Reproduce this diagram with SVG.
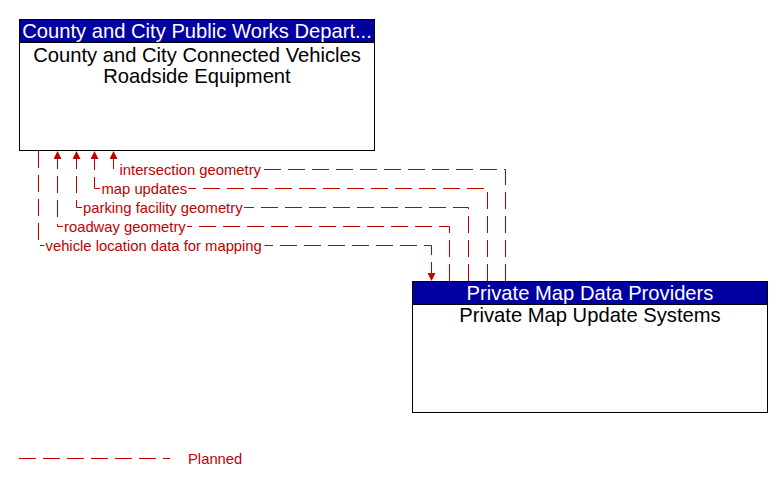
<svg xmlns="http://www.w3.org/2000/svg" width="783" height="487" viewBox="0 0 783 487">
<style>
.box{fill:#ffffff;stroke:#000000;stroke-width:1}
.hdr{fill:#0000A0;stroke:#000000;stroke-width:1}
.ht{font-family:"Liberation Sans",Arial,sans-serif;font-size:20.2px;fill:#ffffff;text-anchor:middle}
.bt{font-family:"Liberation Sans",Arial,sans-serif;font-size:20.2px;fill:#000000;text-anchor:middle}
.flow{fill:none;stroke:#C00000;stroke-width:1;stroke-dasharray:17,7}
.lbl{font-family:"Liberation Sans",Arial,sans-serif;font-size:14.8px;fill:#C00000}
.bg{fill:#ffffff}
</style>
<defs>
<marker id="arr" markerUnits="userSpaceOnUse" markerWidth="9" markerHeight="9" refX="8" refY="4" orient="auto">
<path d="M0,0 L8,4 L0,8 z" fill="#C00000"/>
</marker>
</defs>
<g id="node-county">
<rect class="box" x="19.5" y="19.5" width="355" height="131"/>
<rect class="hdr" x="19.5" y="19.5" width="355" height="23"/>
<text class="ht" x="197" y="37.5">County and City Public Works Depart...</text>
<text class="bt" x="197" y="61.5">County and City Connected Vehicles</text>
<text class="bt" x="197" y="82.5">Roadside Equipment</text>
</g>
<g id="node-private">
<rect class="box" x="412.5" y="281.5" width="355" height="131"/>
<rect class="hdr" x="412.5" y="281.5" width="355" height="23"/>
<text class="ht" x="590" y="299.5">Private Map Data Providers</text>
<text class="bt" x="590" y="321.5">Private Map Update Systems</text>
</g>
<g id="connectors">
<path class="flow" d="M505.5,281 L505.5,169.5 L113.5,169.5 L113.5,151" marker-end="url(#arr)"/>
<path class="flow" d="M487.5,281 L487.5,188.5 L94.5,188.5 L94.5,151" marker-end="url(#arr)"/>
<path class="flow" d="M468.5,281 L468.5,207.5 L76.5,207.5 L76.5,151" marker-end="url(#arr)"/>
<path class="flow" d="M449.5,281 L449.5,226.5 L57.5,226.5 L57.5,151" marker-end="url(#arr)"/>
<path class="flow" d="M38.5,151 L38.5,245.5 L431.5,245.5 L431.5,281" marker-end="url(#arr)"/>
<rect class="bg" x="118.5" y="162" width="145" height="15"/>
<text class="lbl" x="119.5" y="175">intersection geometry</text>
<rect class="bg" x="100.5" y="181" width="88" height="15"/>
<text class="lbl" x="101.5" y="194">map updates</text>
<rect class="bg" x="82" y="200" width="162" height="15"/>
<text class="lbl" x="83" y="213">parking facility geometry</text>
<rect class="bg" x="63" y="219" width="124" height="15"/>
<text class="lbl" x="64" y="232">roadway geometry</text>
<rect class="bg" x="44.5" y="238" width="220" height="15"/>
<text class="lbl" x="45.5" y="251">vehicle location data for mapping</text>
</g>
<g id="legend">
<line class="flow" x1="19" y1="458.5" x2="170" y2="458.5"/>
<text class="lbl" x="188" y="464">Planned</text>
</g>
</svg>
